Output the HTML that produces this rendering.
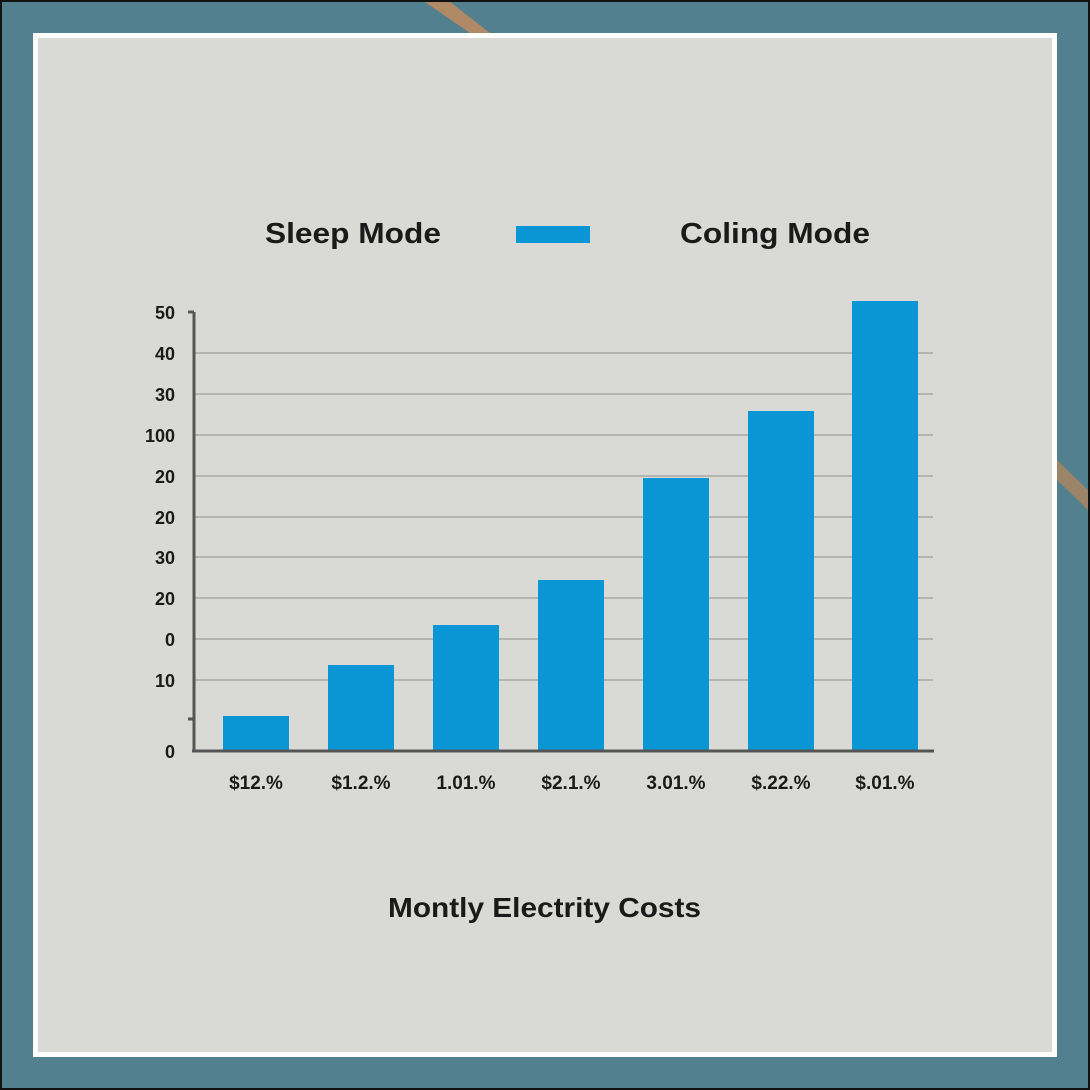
<!DOCTYPE html>
<html><head><style>
body{margin:0;width:1090px;height:1090px;background:#111;overflow:hidden}
.bg{position:absolute;left:2px;top:2px;width:1086px;height:1086px;background:#52808f}
.frame{position:absolute;left:33px;top:33px;width:1024px;height:1024px;background:#fff}
.panel{position:absolute;left:38px;top:38px;width:1014px;height:1014px;background:#d9dad5}
svg{position:absolute;left:0;top:0}
text{font-family:"Liberation Sans",sans-serif;font-weight:bold;fill:#1a1a1a}
</style></head><body>
<div class="bg"></div>
<svg width="1090" height="1090"><path d="M425 2 L450 2 L490 33 L470 33 Z" fill="#b08a66"/><path d="M1057 460 L1088 490 L1088 510 L1057 480 Z" fill="#9c8468"/></svg>
<div class="frame"></div><div class="panel"></div>
<svg width="1090" height="1090">
<text x="265" y="243" font-size="29" textLength="176" lengthAdjust="spacingAndGlyphs">Sleep Mode</text>
<rect x="516" y="226" width="74" height="17" fill="#0a96d4"/>
<text x="680" y="243" font-size="29" textLength="190" lengthAdjust="spacingAndGlyphs">Coling Mode</text>
<g stroke="#a8a8a4" stroke-width="1.5">
<line x1="194" x2="933" y1="353" y2="353"/><line x1="194" x2="933" y1="394" y2="394"/><line x1="194" x2="933" y1="435" y2="435"/><line x1="194" x2="933" y1="476" y2="476"/><line x1="194" x2="933" y1="517" y2="517"/><line x1="194" x2="933" y1="557" y2="557"/><line x1="194" x2="933" y1="598" y2="598"/><line x1="194" x2="933" y1="639" y2="639"/><line x1="194" x2="933" y1="680" y2="680"/>
</g>
<g fill="#0a96d4">
<rect x="223" y="716" width="66" height="35"/><rect x="328" y="665" width="66" height="86"/><rect x="433" y="625" width="66" height="126"/><rect x="538" y="580" width="66" height="171"/><rect x="643" y="478" width="66" height="273"/><rect x="748" y="411" width="66" height="340"/><rect x="852" y="301" width="66" height="450"/>
</g>
<g stroke="#555" stroke-width="3"><line x1="194" y1="312" x2="194" y2="752"/><line x1="192" y1="751" x2="934" y2="751"/><line x1="188" y1="312" x2="194" y2="312"/><line x1="188" y1="719" x2="194" y2="719"/></g>
<g font-size="18" text-anchor="end">
<text x="175" y="319">50</text><text x="175" y="360">40</text><text x="175" y="401">30</text><text x="175" y="442">100</text><text x="175" y="483">20</text><text x="175" y="524">20</text><text x="175" y="564">30</text><text x="175" y="605">20</text><text x="175" y="646">0</text><text x="175" y="687">10</text><text x="175" y="758">0</text>
</g>
<g font-size="19" text-anchor="middle">
<text x="256" y="789">$12.%</text><text x="361" y="789">$1.2.%</text><text x="466" y="789">1.01.%</text><text x="571" y="789">$2.1.%</text><text x="676" y="789">3.01.%</text><text x="781" y="789">$.22.%</text><text x="885" y="789">$.01.%</text>
</g>
<text x="388" y="917" font-size="28" textLength="313" lengthAdjust="spacingAndGlyphs">Montly Electrity Costs</text>
</svg>
</body></html>
